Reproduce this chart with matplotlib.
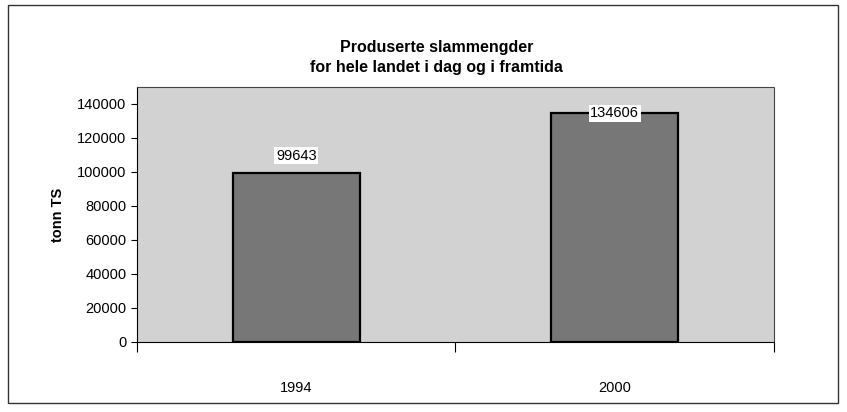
#!/usr/bin/env python3
"""
Produserte slammengder - bar chart, 1994 vs 2000
"""
import matplotlib
matplotlib.use('Agg')
import matplotlib.pyplot as plt
from matplotlib.patches import Rectangle

#--------------------------------------
# Data
#--------------------------------------
years = ['1994', '2000']
tonn_ts = [99643, 134606]
yticks = [0, 20000, 40000, 60000, 80000, 100000, 120000, 140000]

plt.rcParams['font.family'] = ['Liberation Sans', 'DejaVu Sans']

fig = plt.figure(figsize=(8.47, 4.12), dpi=100)

# outer frame around the whole chart
fig.patches.append(Rectangle((0.0094, 0.022), 0.980, 0.966, transform=fig.transFigure,
                             fill=False, edgecolor='#333333', linewidth=1.0))

ax = fig.add_axes([0.1617, 0.170, 0.752, 0.619])
ax.set_facecolor('#d2d2d2')

x = list(range(len(years)))
bars = ax.bar(x, tonn_ts, width=0.4, color='#777777', edgecolor='black', linewidth=1.6, zorder=2)

ax.set_xlim(-0.5, len(years) - 0.5)
ax.set_ylim(0, 150000)
ax.set_yticks(yticks)
ax.set_yticklabels([str(v) for v in yticks], fontsize=10.5)
ax.set_xticks(x)
ax.set_xticklabels(years, fontsize=10.5)
ax.tick_params(axis='x', length=0, pad=28)
ax.tick_params(axis='y', length=4, width=0.8, direction='out')

# category boundary ticks on the x axis
ax.set_xticks([-0.5, 0.5, 1.5], minor=True)
ax.tick_params(axis='x', which='minor', length=7, width=0.8, direction='out')

for side in ['top', 'right']:
    ax.spines[side].set_color('#444444')
    ax.spines[side].set_linestyle((0, (1, 1)))
    ax.spines[side].set_linewidth(0.8)
ax.spines['left'].set_linewidth(0.8)
ax.spines['bottom'].set_linewidth(0.8)

ax.set_ylabel('tonn TS', fontsize=10.5, fontweight='bold', labelpad=9)

# data labels in white boxes
offsets = [12, 0]
for xi, val, off in zip(x, tonn_ts, offsets):
    ax.annotate(str(val), (xi, val), xytext=(0, off), textcoords='offset points',
                ha='center', va='center', fontsize=10.5, zorder=4,
                bbox=dict(boxstyle='square,pad=0.1', facecolor='white', edgecolor='none'))

fig.text(0.515, 0.885, 'Produserte slammengder', ha='center', va='center',
         fontsize=11.5, fontweight='bold')
fig.text(0.515, 0.836, 'for hele landet i dag og i framtida', ha='center', va='center',
         fontsize=11.5, fontweight='bold')

fig.savefig('out.png', dpi=100)
